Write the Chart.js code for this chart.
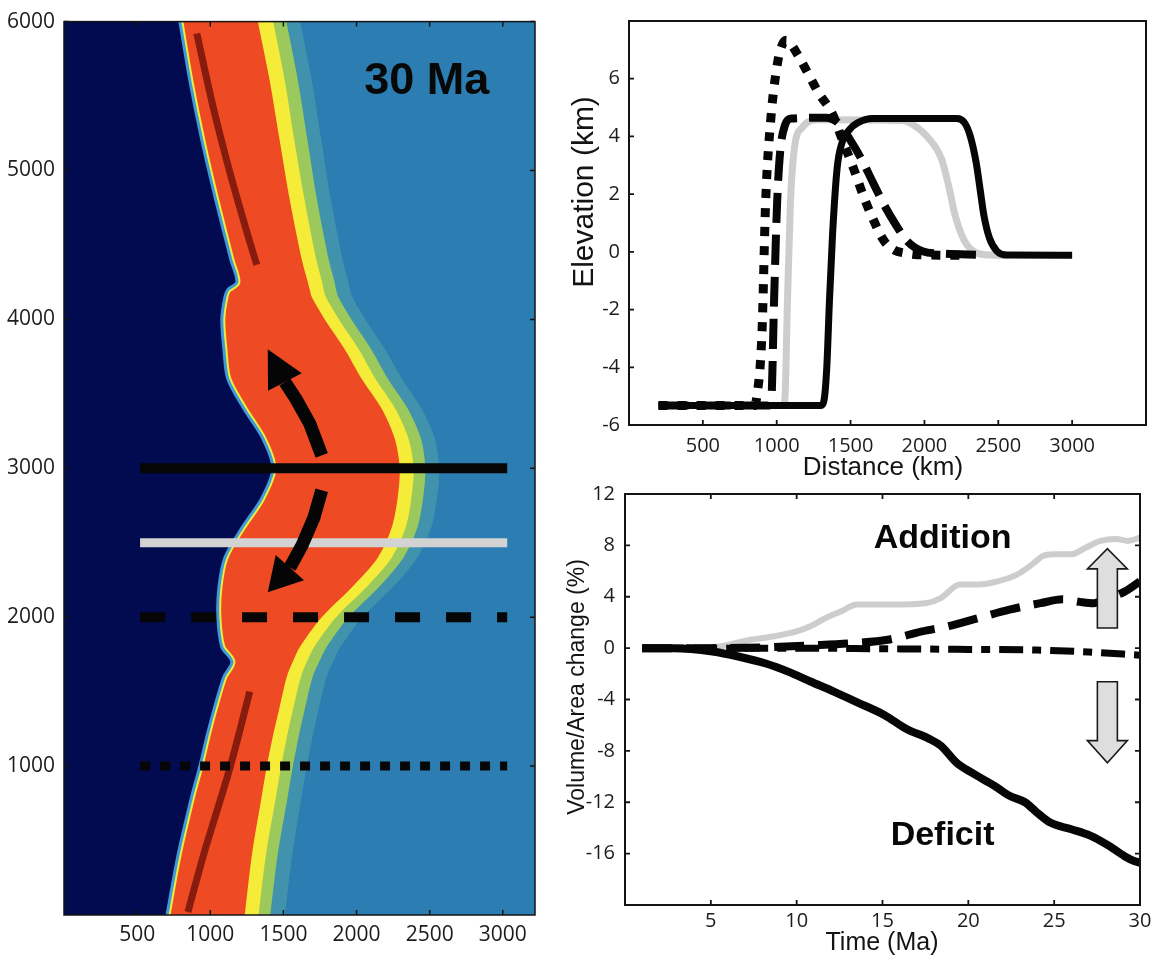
<!DOCTYPE html>
<html>
<head>
<meta charset="utf-8">
<title>Plateau growth, 30 Ma</title>
<script src="https://cdn.jsdelivr.net/npm/chart.js@4.4.1/dist/chart.umd.min.js"></script>
<style>
  html, body { margin: 0; padding: 0; background: #fff; }
  #wrap { position: relative; width: 1156px; height: 964px; overflow: hidden; }
  .panel { position: absolute; }
</style>
</head>
<body>
<div id="wrap">
  <div class="panel" style="left:0;top:0;width:560px;height:964px"><canvas id="map"></canvas></div>
  <div class="panel" style="left:560px;top:0;width:596px;height:480px"><canvas id="profile"></canvas></div>
  <div class="panel" style="left:560px;top:470px;width:596px;height:494px"><canvas id="volume"></canvas></div>
</div>
<script>
// ---------- map view (km along strike vs km across) ----------
const MAP_ROWS = [6000, 5600, 5200, 4800, 4400, 4250, 4200, 4150, 4000, 3800, 3600, 3400, 3200, 3000,
  2800, 2600, 2400, 2200, 2000, 1800, 1700, 1600, 1400, 1200, 1000, 800, 400, 0];
// trench side of the high topography
const TRENCH_EDGE = [792, 861, 943, 1038, 1141, 1182, 1120, 1100, 1079, 1093, 1120, 1230, 1359, 1428,
  1352, 1216, 1100, 1059, 1052, 1079, 1148, 1093, 1031, 977, 929, 874, 779, 704];
// back side of the plateau and the colour fringe behind it
const PLATEAU_EDGE = [1325, 1407, 1475, 1544, 1626, 1667, 1680, 1694, 1783, 1919, 2036, 2172, 2261, 2295,
  2281, 2240, 2145, 1967, 1762, 1612, 1564, 1523, 1475, 1428, 1387, 1352, 1284, 1236];
const YELLOW_EDGE = [1430, 1510, 1575, 1645, 1725, 1765, 1775, 1790, 1880, 2015, 2130, 2265, 2355, 2390,
  2375, 2335, 2240, 2065, 1860, 1710, 1660, 1620, 1570, 1525, 1485, 1450, 1380, 1330];
const GREEN_EDGE = [1520, 1600, 1665, 1730, 1810, 1850, 1860, 1875, 1965, 2100, 2215, 2350, 2440, 2470,
  2455, 2415, 2320, 2150, 1945, 1795, 1745, 1700, 1650, 1605, 1565, 1530, 1460, 1410];
const TEAL_EDGE = [1615, 1695, 1760, 1825, 1905, 1945, 1955, 1970, 2060, 2195, 2310, 2445, 2535, 2565,
  2550, 2510, 2415, 2245, 2040, 1890, 1840, 1795, 1745, 1700, 1660, 1625, 1560, 1510];

const UPPER_RIDGE_X = [908, 1018, 1134, 1250, 1318];
const UPPER_RIDGE_Y = [5920, 5433, 4987, 4587, 4367];
const LOWER_RIDGE_X = [1270, 1134, 963, 847];
const LOWER_RIDGE_Y = [1500, 987, 433, 20];

const SECTION_X = [520, 3030];
const SECTION_ROWS = [3000, 2500, 2000, 1000];

const ARROW_N_X = [1762, 1680, 1585, 1510, 1393];
const ARROW_N_Y = [3087, 3300, 3467, 3580, 3800];
const ARROW_S_X = [1762, 1708, 1626, 1544, 1393];
const ARROW_S_Y = [2853, 2667, 2480, 2333, 2167];

const MAP_X_TICKS = [500, 1000, 1500, 2000, 2500, 3000];
const MAP_Y_TICKS = [1000, 2000, 3000, 4000, 5000, 6000];

// ---------- elevation profiles along the sections ----------
const SOLID_DIST = [200, 1300, 1320, 1339, 1357, 1378, 1409, 1443, 1495, 1547, 1650, 2220, 2272, 2311, 2350, 2376, 2402, 2440, 2492, 2557, 3000];
const SOLID_ELEV = [-5.32, -5.32, -5.15, -4.0, -1.7, 0.6, 2.9, 3.8, 4.25, 4.47, 4.62, 4.62, 4.47, 4.0, 3.1, 2.2, 1.28, 0.48, 0.02, -0.11, -0.12];
const GREY_DIST = [200, 1040, 1054, 1073, 1093, 1119, 1171, 1288, 1857, 1909, 2013, 2117, 2168, 2207, 2272, 2350, 2453, 2560];
const GREY_ELEV = [-5.32, -5.32, -5.2, -1.7, 1.74, 3.56, 4.3, 4.58, 4.55, 4.45, 4.02, 3.2, 2.2, 1.28, 0.37, -0.03, -0.11, -0.12];
const DASH_DIST = [200, 950, 964, 982, 1003, 1023, 1054, 1100, 1330, 1417, 1495, 1573, 1650, 1728, 1806, 1883, 1987, 2117, 2376];
const DASH_ELEV = [-5.32, -5.32, -5.1, -1.7, 1.73, 3.45, 4.36, 4.62, 4.65, 4.47, 3.9, 3.22, 2.42, 1.62, 0.94, 0.37, 0.02, -0.06, -0.1];
const DOT_DIST = [200, 850, 863, 900, 925, 960, 1005, 1035, 1065, 1095, 1140, 1200, 1285, 1375, 1443, 1521, 1585, 1650, 1728, 1800, 1857, 1950, 2300];
const DOT_ELEV = [-5.32, -5.32, -5.1, -2.83, 1.73, 4.6, 6.53, 7.15, 7.33, 7.2, 6.85, 6.3, 5.5, 4.8, 3.9, 2.88, 1.96, 1.16, 0.37, 0.05, -0.03, -0.1, -0.12];
const DIST_TICKS = [500, 1000, 1500, 2000, 2500, 3000];
const ELEV_TICKS = [-6, -4, -2, 0, 2, 4, 6];

// ---------- volume / area change through time ----------
const GREY_TIME = [1, 3, 5.5, 7.3, 8.6, 10, 10.8, 11.7, 12.6, 13.5, 14, 15.7, 17.5, 18.4, 19.5, 20.6, 21.7, 22.8, 23.7, 24.4, 25.1, 26, 26.8, 27.7, 28.6, 29.3, 30];
const GREY_CHANGE = [0, 0, 0.13, 0.65, 0.9, 1.3, 1.7, 2.35, 2.87, 3.4, 3.4, 3.4, 3.5, 3.9, 4.96, 4.96, 5.2, 5.7, 6.5, 7.2, 7.3, 7.3, 7.8, 8.35, 8.5, 8.35, 8.6];
const DASH_TIME = [1, 5, 8, 10.6, 13.5, 15.3, 17.3, 18.8, 20.6, 22.4, 24.2, 25.5, 26.5, 27.3, 28, 29.1, 30];
const DASH_CHANGE = [0, 0, 0.05, 0.2, 0.4, 0.65, 1.3, 1.7, 2.35, 3.0, 3.5, 3.8, 3.6, 3.5, 3.8, 4.4, 5.2];
const DOT_TIME = [1, 5, 10, 15, 20, 24, 27, 30];
const DOT_CHANGE = [0, 0, 0, -0.05, -0.1, -0.15, -0.3, -0.55];
const SOLID_TIME = [1, 2.8, 5.1, 6.6, 8.2, 9.5, 10.8, 12.2, 13.5, 15.1, 16.4, 17.7, 18.4, 19.3, 20.2, 21.5, 22.4, 23.3, 24, 24.8, 26, 27.1, 28.2, 29.1, 29.7, 30];
const SOLID_CHANGE = [0, 0, -0.26, -0.65, -1.2, -1.83, -2.6, -3.4, -4.2, -5.2, -6.3, -7.05, -7.6, -8.9, -9.7, -10.7, -11.5, -12.0, -12.8, -13.6, -14.1, -14.6, -15.4, -16.2, -16.6, -16.7];
const TIME_TICKS = [5, 10, 15, 20, 25, 30];
const CHANGE_TICKS = [-16, -12, -8, -4, 0, 4, 8, 12];

// block arrows and labels in the volume panel
const BLOCK_ARROW_T = 28.1;
const BLOCK_UP = [1.57, 6.17, 7.74];      // tail, head base, tip
const BLOCK_DOWN = [-2.62, -7.2, -8.92];
const VOLUME_LABELS = ['Addition', 'Deficit'];
const VOLUME_LABEL_T = [18.5, 18.5];
const VOLUME_LABEL_V = [8.5, -14.6];

Chart.defaults.font.family = '"Open Sans", sans-serif';
Chart.defaults.color = '#1c1c1c';

const INK = '#141414';
const TITLE_FAMILY = '"Liberation Sans", Arial, sans-serif';

const pairs = (xs, ys) => xs.map((x, i) => ({ x, y: ys[i] }));
const fixedTicks = (vals) => (scale) => { scale.ticks = vals.map(v => ({ value: v })); };
const plain = (v) => String(v);

// inward tick marks and a closed frame round the plot area
const frameTicks = {
  id: 'frameTicks',
  afterDatasetsDraw(chart, args, opts) {
    const { ctx, chartArea: a } = chart;
    const xs = chart.scales.x, ys = chart.scales.y;
    ctx.save();
    ctx.strokeStyle = INK;
    ctx.lineWidth = opts.tickWidth;
    ctx.beginPath();
    for (const t of xs.ticks) {
      const p = xs.getPixelForValue(t.value);
      ctx.moveTo(p, a.bottom); ctx.lineTo(p, a.bottom - opts.length);
      if (opts.mirror) { ctx.moveTo(p, a.top); ctx.lineTo(p, a.top + opts.length); }
    }
    for (const t of ys.ticks) {
      const p = ys.getPixelForValue(t.value);
      ctx.moveTo(a.left, p); ctx.lineTo(a.left + opts.length, p);
      if (opts.mirror) { ctx.moveTo(a.right, p); ctx.lineTo(a.right - opts.length, p); }
    }
    ctx.stroke();
    ctx.lineWidth = opts.frameWidth;
    ctx.strokeRect(a.left, a.top, a.right - a.left, a.bottom - a.top);
    ctx.restore();
  }
};

// axis titles placed by hand so they can sit off-centre like the printed figure
const axisLabels = {
  id: 'axisLabels',
  afterDraw(chart, args, opts) {
    const { ctx } = chart;
    for (const l of opts.items) {
      ctx.save();
      ctx.translate(l.x, l.y);
      if (l.vertical) ctx.rotate(-Math.PI / 2);
      ctx.font = `${l.size}px ${TITLE_FAMILY}`;
      ctx.fillStyle = INK;
      ctx.textAlign = 'center';
      ctx.textBaseline = 'middle';
      ctx.fillText(l.text, 0, 0);
      ctx.restore();
    }
  }
};

function drawCurvedArrow(chart, xs, ys) {
  const { ctx, scales: { x, y } } = chart;
  const pts = xs.map((v, i) => [x.getPixelForValue(v), y.getPixelForValue(ys[i])]);
  const n = pts.length;
  ctx.save();
  ctx.strokeStyle = '#050505';
  ctx.fillStyle = '#050505';
  ctx.lineWidth = 13;
  ctx.lineJoin = 'round';
  ctx.beginPath();
  ctx.moveTo(pts[0][0], pts[0][1]);
  for (let i = 1; i < n - 1; i++) ctx.lineTo(pts[i][0], pts[i][1]);
  ctx.stroke();
  const tip = pts[n - 1], base = pts[n - 2];
  const ang = Math.atan2(tip[1] - base[1], tip[0] - base[0]);
  const nx = -Math.sin(ang), ny = Math.cos(ang);
  ctx.beginPath();
  ctx.moveTo(tip[0], tip[1]);
  ctx.lineTo(base[0] + nx * 19, base[1] + ny * 19);
  ctx.lineTo(base[0] - nx * 19, base[1] - ny * 19);
  ctx.closePath();
  ctx.fill();
  ctx.restore();
}

const mapOverlay = {
  id: 'mapOverlay',
  beforeDatasetsDraw(chart) {
    const { ctx, chartArea: a } = chart;
    ctx.save();
    ctx.fillStyle = '#2b7db2';
    ctx.fillRect(a.left, a.top, a.right - a.left, a.bottom - a.top);
    ctx.restore();
  },
  afterDatasetsDraw(chart) {
    drawCurvedArrow(chart, ARROW_N_X, ARROW_N_Y);
    drawCurvedArrow(chart, ARROW_S_X, ARROW_S_Y);
    const { ctx, scales: { x, y } } = chart;
    ctx.save();
    ctx.font = `bold 45px ${TITLE_FAMILY}`;
    ctx.fillStyle = '#080808';
    ctx.textAlign = 'center';
    ctx.textBaseline = 'middle';
    ctx.fillText('30 Ma', x.getPixelForValue(2480), y.getPixelForValue(5600));
    ctx.restore();
  }
};

const volumeOverlay = {
  id: 'volumeOverlay',
  afterDatasetsDraw(chart) {
    const { ctx, scales: { x, y } } = chart;
    const cx = x.getPixelForValue(BLOCK_ARROW_T);
    const block = ([tail, base, tip]) => {
      const t0 = y.getPixelForValue(tail), b = y.getPixelForValue(base), tp = y.getPixelForValue(tip);
      ctx.beginPath();
      ctx.moveTo(cx - 10, t0);
      ctx.lineTo(cx - 10, b);
      ctx.lineTo(cx - 20, b);
      ctx.lineTo(cx, tp);
      ctx.lineTo(cx + 20, b);
      ctx.lineTo(cx + 10, b);
      ctx.lineTo(cx + 10, t0);
      ctx.closePath();
      ctx.fill();
      ctx.stroke();
    };
    ctx.save();
    ctx.fillStyle = '#dedede';
    ctx.strokeStyle = '#1a1a1a';
    ctx.lineWidth = 1.6;
    ctx.lineJoin = 'miter';
    block(BLOCK_UP);
    block(BLOCK_DOWN);
    ctx.font = `bold 34px ${TITLE_FAMILY}`;
    ctx.fillStyle = '#080808';
    ctx.textAlign = 'center';
    ctx.textBaseline = 'middle';
    VOLUME_LABELS.forEach((txt, i) => {
      ctx.fillText(txt, x.getPixelForValue(VOLUME_LABEL_T[i]), y.getPixelForValue(VOLUME_LABEL_V[i]));
    });
    ctx.restore();
  }
};

const axisBase = {
  type: 'linear',
  grid: { display: false, drawTicks: false },
  border: { display: false }
};

// ---------- map chart ----------
const band = (edge, color, order, extra) => Object.assign({
  data: pairs(edge, MAP_ROWS),
  backgroundColor: color,
  borderWidth: 0,
  fill: { value: 0 },
  tension: 0.3,
  order
}, extra || {});

const section = (row, color, dash, width) => ({
  data: pairs(SECTION_X, [row, row]),
  borderColor: color,
  borderWidth: width,
  borderDash: dash,
  borderCapStyle: 'butt',
  fill: false,
  order: 0
});

new Chart(document.getElementById('map'), {
  type: 'line',
  data: {
    datasets: [
      section(SECTION_ROWS[0], '#060606', [], 10),
      section(SECTION_ROWS[1], '#d3d3d3', [], 9),
      section(SECTION_ROWS[2], '#060606', [25, 26], 10),
      section(SECTION_ROWS[3], '#060606', [10, 10], 9),
      { data: pairs(UPPER_RIDGE_X, UPPER_RIDGE_Y), borderColor: 'rgba(95, 8, 6, 0.72)', borderWidth: 7, fill: false, tension: 0.3, order: 0.5 },
      { data: pairs(LOWER_RIDGE_X, LOWER_RIDGE_Y), borderColor: 'rgba(95, 8, 6, 0.72)', borderWidth: 7, fill: false, tension: 0.3, order: 0.5 },
      band(TRENCH_EDGE, '#020a50', 1, { borderColor: '#3f98d8', borderWidth: 3 }),
      // thin yellow rim on the plateau side of the trench edge
      { data: pairs(TRENCH_EDGE, MAP_ROWS), borderColor: '#e6ee3e', borderWidth: 7, fill: false, tension: 0.3, order: 1.5 },
      band(PLATEAU_EDGE, '#ee4b24', 2),
      band(YELLOW_EDGE, '#f4ec38', 3),
      band(GREEN_EDGE, '#9cc95c', 4),
      band(TEAL_EDGE, '#4192ac', 5)
    ]
  },
  plugins: [mapOverlay, frameTicks],
  options: {
    indexAxis: 'y',
    responsive: true,
    maintainAspectRatio: false,
    animation: false,
    events: [],
    layout: { padding: { top: 15, right: 25, left: 0, bottom: 0 } },
    elements: { point: { radius: 0 } },
    plugins: {
      legend: { display: false },
      tooltip: { enabled: false },
      frameTicks: { length: 5, tickWidth: 1.5, frameWidth: 1.5, mirror: true }
    },
    scales: {
      x: Object.assign({}, axisBase, {
        min: 0, max: 3220,
        afterBuildTicks: fixedTicks(MAP_X_TICKS),
        afterFit: (s) => { s.height = 49; },
        ticks: { font: { size: 21 }, padding: 7, maxRotation: 0, callback: plain }
      }),
      y: Object.assign({}, axisBase, {
        min: 0, max: 6000,
        afterBuildTicks: fixedTicks(MAP_Y_TICKS),
        afterFit: (s) => { s.width = 64; },
        ticks: { font: { size: 21 }, padding: 9, callback: plain }
      })
    }
  }
});

// ---------- elevation profiles ----------
const curve = (xs, ys, color, width, dash, order) => ({
  data: pairs(xs, ys),
  borderColor: color,
  borderWidth: width,
  borderDash: dash,
  borderCapStyle: 'butt',
  cubicInterpolationMode: 'monotone',
  fill: false,
  order
});

new Chart(document.getElementById('profile'), {
  type: 'line',
  data: {
    datasets: [
      curve(SOLID_DIST, SOLID_ELEV, '#060606', 7, [], 0),
      curve(DASH_DIST, DASH_ELEV, '#060606', 8, [30, 12], 1),
      curve(DOT_DIST, DOT_ELEV, '#060606', 9, [9, 10], 2),
      curve(GREY_DIST, GREY_ELEV, '#cdcdcd', 7, [], 3)
    ]
  },
  plugins: [frameTicks, axisLabels],
  options: {
    responsive: true,
    maintainAspectRatio: false,
    animation: false,
    events: [],
    layout: { padding: { top: 15, right: 10, left: 0, bottom: 0 } },
    elements: { point: { radius: 0 } },
    plugins: {
      legend: { display: false },
      tooltip: { enabled: false },
      frameTicks: { length: 5, tickWidth: 1.8, frameWidth: 2, mirror: false },
      axisLabels: {
        items: [
          { text: 'Distance (km)', x: 323, y: 468, size: 26 },
          { text: 'Elevation (km)', x: 25, y: 192, size: 30, vertical: true }
        ]
      }
    },
    scales: {
      x: Object.assign({}, axisBase, {
        min: 0, max: 3500,
        afterBuildTicks: fixedTicks(DIST_TICKS),
        afterFit: (s) => { s.height = 55; },
        ticks: { font: { size: 20 }, padding: 9, maxRotation: 0, callback: plain }
      }),
      y: Object.assign({}, axisBase, {
        min: -6, max: 8,
        afterBuildTicks: fixedTicks(ELEV_TICKS),
        afterFit: (s) => { s.width = 69; },
        ticks: { font: { size: 20 }, padding: 9, callback: plain }
      })
    }
  }
});

// ---------- volume / area change ----------
new Chart(document.getElementById('volume'), {
  type: 'line',
  data: {
    datasets: [
      curve(SOLID_TIME, SOLID_CHANGE, '#060606', 8, [], 0),
      curve(DOT_TIME, DOT_CHANGE, '#060606', 7, [24, 9, 9, 9], 1),
      curve(DASH_TIME, DASH_CHANGE, '#060606', 8, [30, 14], 2),
      curve(GREY_TIME, GREY_CHANGE, '#cdcdcd', 6, [], 3)
    ]
  },
  plugins: [volumeOverlay, frameTicks, axisLabels],
  options: {
    responsive: true,
    maintainAspectRatio: false,
    animation: false,
    events: [],
    layout: { padding: { top: 24, right: 16, left: 0, bottom: 0 } },
    elements: { point: { radius: 0 } },
    plugins: {
      legend: { display: false },
      tooltip: { enabled: false },
      frameTicks: { length: 5, tickWidth: 1.8, frameWidth: 2, mirror: true },
      axisLabels: {
        items: [
          { text: 'Time (Ma)', x: 322, y: 473, size: 25 },
          { text: 'Volume/Area change (%)', x: 18, y: 217, size: 23, vertical: true }
        ]
      }
    },
    scales: {
      x: Object.assign({}, axisBase, {
        min: 0, max: 30,
        afterBuildTicks: fixedTicks(TIME_TICKS),
        afterFit: (s) => { s.height = 59; },
        ticks: { font: { size: 20 }, padding: 4, maxRotation: 0, callback: plain }
      }),
      y: Object.assign({}, axisBase, {
        min: -20, max: 12,
        afterBuildTicks: fixedTicks(CHANGE_TICKS),
        afterFit: (s) => { s.width = 65; },
        ticks: { font: { size: 20 }, padding: 10, callback: plain }
      })
    }
  }
});
</script>
</body>
</html>
